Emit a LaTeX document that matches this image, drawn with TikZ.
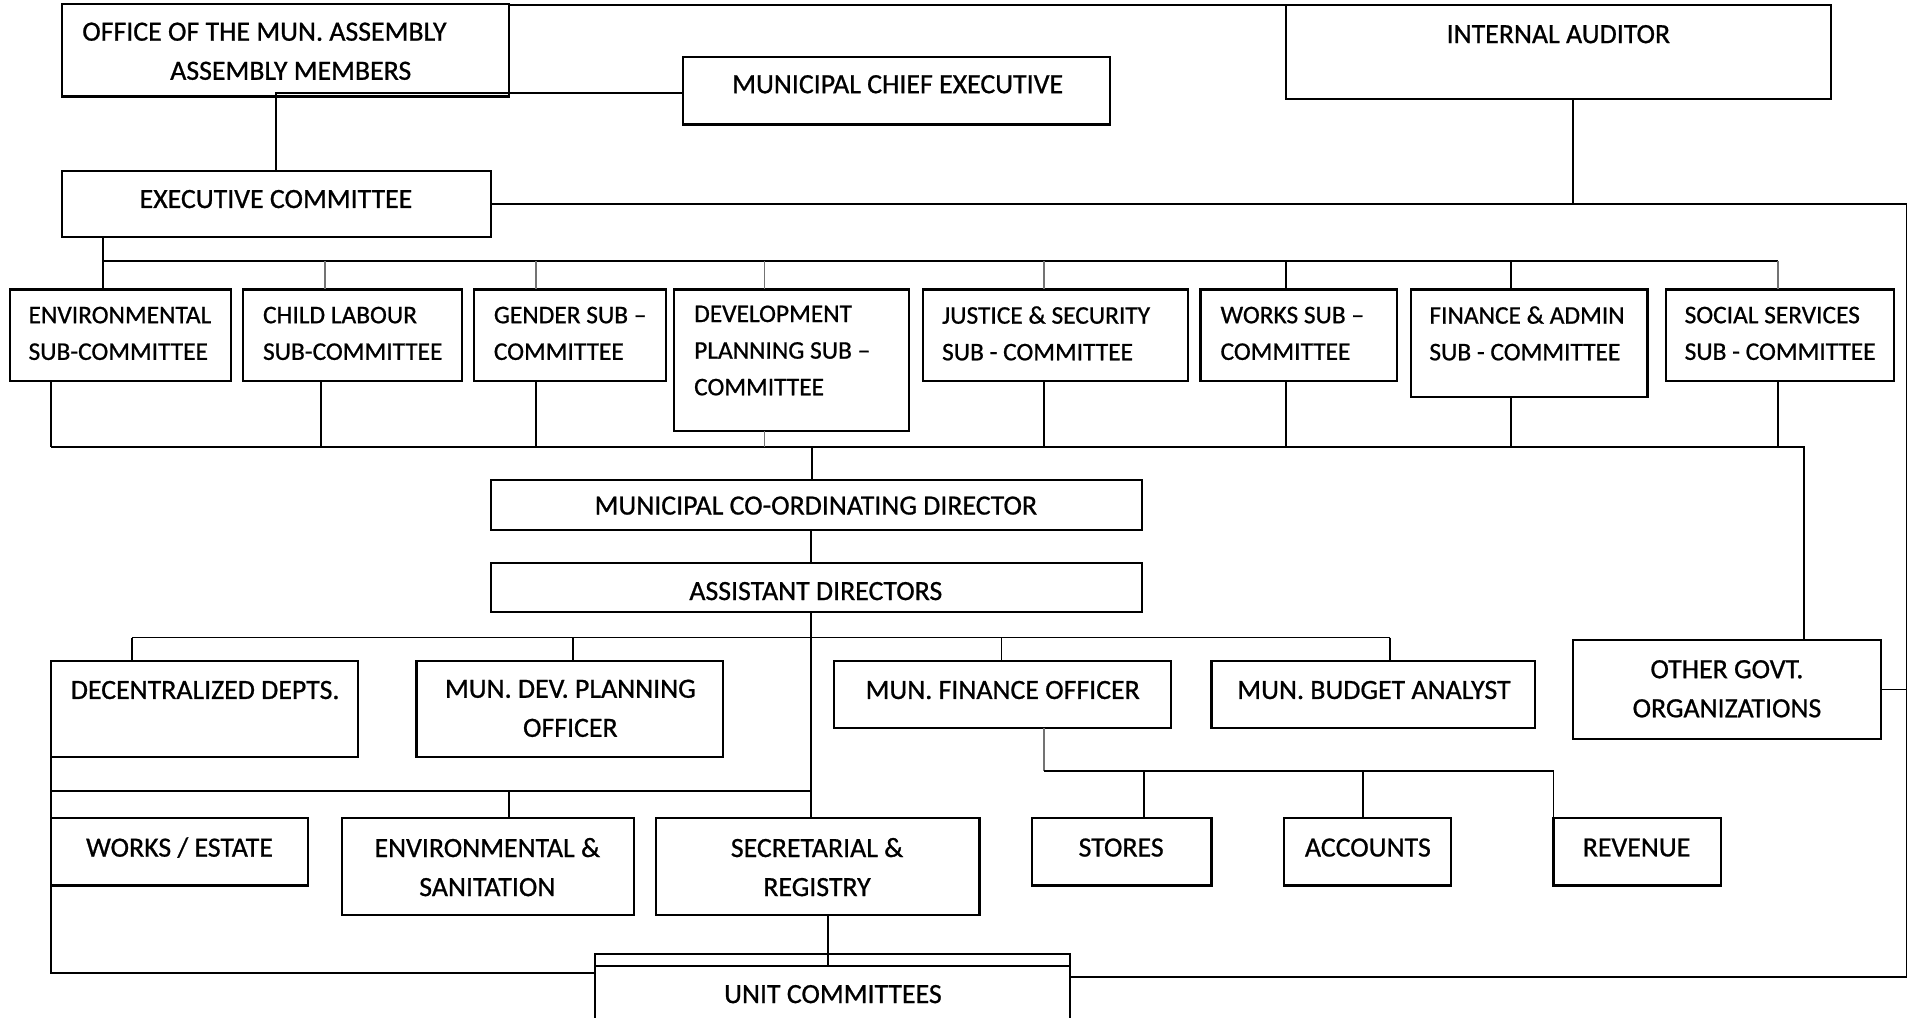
\documentclass[tikz,border=0pt]{standalone}
\usepackage{fontspec}
\setmainfont{Carlito}[FakeBold=0.8]
\usetikzlibrary{fit}
\tikzset{
  box/.style={draw=black, line width=0.9pt, inner sep=0pt, outer sep=0pt},
  lbl/.style={font=\fontsize{11.4}{15}\selectfont, inner sep=0pt, text=black},
  lblS/.style={font=\fontsize{10.4}{15}\selectfont, inner sep=0pt, text=black, align=left, anchor=west},
  lblL/.style={lbl, align=left, anchor=west},
  lblC/.style={lbl, align=center},
  lblCC/.style={lbl, align=center, font=\fontsize{11.4}{16}\selectfont},
  con/.style={draw=black, line width=0.75pt},
  gcon/.style={draw=black!55, line width=0.75pt},
}
\begin{document}
\begin{tikzpicture}[x=0.5pt, y=-0.5pt]
\useasboundingbox (0,0) rectangle (1568,833);
% ---------- boxes ----------
\node[box, fit={(51,3) (417,79)}] (office) {};
\node[box, fit={(559,47) (909,102)}] (mce) {};
\node[box, fit={(1053,4) (1499,81)}] (ia) {};
\node[box, fit={(51,140) (402,194)}] (exec) {};
\node[box, fit={(8,237) (189,312)}] (env) {};
\node[box, fit={(199,237) (378,312)}] (child) {};
\node[box, fit={(388,237) (545,312)}] (gender) {};
\node[box, fit={(552,237) (744,353)}] (dev) {};
\node[box, fit={(756,237) (973,312)}] (just) {};
\node[box, fit={(983,237) (1144,312)}] (works) {};
\node[box, fit={(1155,237) (1349,325)}] (fin) {};
\node[box, fit={(1364,237) (1551,312)}] (soc) {};
\node[box, fit={(402,393) (935,434)}] (mcd) {};
\node[box, fit={(402,461) (935,501)}] (ad) {};
\node[box, fit={(42,541) (293,620)}] (dec) {};
\node[box, fit={(341,541) (592,620)}] (mdpo) {};
\node[box, fit={(683,541) (959,596)}] (mfo) {};
\node[box, fit={(992,541) (1257,596)}] (mba) {};
\node[box, fit={(1288,524) (1540,605)}] (ogo) {};
\node[box, fit={(42,670) (252,725)}] (we) {};
\node[box, fit={(280,670) (519,749)}] (es) {};
\node[box, fit={(537,670) (802,749)}] (sr) {};
\node[box, fit={(845,670) (992,725)}] (stores) {};
\node[box, fit={(1051,670) (1188,725)}] (acc) {};
\node[box, fit={(1272,670) (1409,725)}] (rev) {};
\node[box, fit={(487,781) (876,845)}] (unit) {};
\draw[box] ([yshift=-5pt]unit.north west) -- ([yshift=-5pt]unit.north east);
% ---------- labels ----------
\node[lblL] (officeT1) at (67,26) {OFFICE OF THE MUN. ASSEMBLY};
\node[lblL] (officeT2) at (139,58) {ASSEMBLY MEMBERS};
\node[lblC] (mceT) at (735,69) {MUNICIPAL CHIEF EXECUTIVE};
\node[lblC] (iaT) at (1276,28) {INTERNAL AUDITOR};
\node[lblC] (execT) at (226,163) {EXECUTIVE COMMITTEE};
\node[lblS] (envT) at (23,273) {ENVIRONMENTAL\\SUB-COMMITTEE};
\node[lblS] (childT) at (215,273) {CHILD LABOUR\\SUB-COMMITTEE};
\node[lblS] (genderT) at (404,273) {GENDER SUB –\\COMMITTEE};
\node[lblS] (devT) at (568,287) {DEVELOPMENT\\PLANNING SUB –\\COMMITTEE};
\node[lblS] (justT) at (771,273) {JUSTICE \& SECURITY\\SUB - COMMITTEE};
\node[lblS] (worksT) at (999,273) {WORKS SUB –\\COMMITTEE};
\node[lblS] (finT) at (1170,273) {FINANCE \& ADMIN\\SUB - COMMITTEE};
\node[lblS] (socT) at (1379,273) {SOCIAL SERVICES\\SUB - COMMITTEE};
\node[lblC] (mcdT) at (668,414) {MUNICIPAL CO-ORDINATING DIRECTOR};
\node[lblC] (adT) at (668,484) {ASSISTANT DIRECTORS};
\node[lblC] (decT) at (168,565) {DECENTRALIZED DEPTS.};
\node[lblCC] (mdpoT) at (467,580) {MUN. DEV. PLANNING\\OFFICER};
\node[lblC] (mfoT) at (821,565) {MUN. FINANCE OFFICER};
\node[lblC] (mbaT) at (1125,565) {MUN. BUDGET ANALYST};
\node[lblCC] (ogoT) at (1414,564) {OTHER GOVT.\\ORGANIZATIONS};
\node[lblC] (weT) at (147,694) {WORKS / ESTATE};
\node[lblCC] (esT) at (399,710) {ENVIRONMENTAL \&\\SANITATION};
\node[lblCC] (srT) at (669,710) {SECRETARIAL \&\\REGISTRY};
\node[lblC] (storesT) at (918,694) {STORES};
\node[lblC] (accT) at (1120,694) {ACCOUNTS};
\node[lblC] (revT) at (1340,694) {REVENUE};
\node[lblC] (unitT) at (682,814) {UNIT COMMITTEES};
% ---------- connectors ----------
\draw[con] (office.east |- ia.north) -- (ia.north west);
\coordinate (j1) at (226,76);
\draw[con] (exec.north -| j1) -- (j1) -- (j1 -| mce.west);
\coordinate (j2) at (1288,167);
\coordinate (rc1) at (1561,167);
\coordinate (rc2) at (1561,800);
\draw[con] (ia.south -| j2) -- (j2);
\draw[con] (exec.east |- rc1) -- (rc1) -- (rc2) -- (rc2 -| unit.east);
% sub-committee top bus
\coordinate (t1) at (84,214);
\coordinate (t8) at (1456,214);
\draw[con] (exec.south -| t1) -- (env.north -| t1);
\draw[con] (t1) -- (t8);
\foreach \n/\x/\c in {child/266/gcon, gender/439/gcon, dev/626/gcon, just/855/gcon, works/1053/con, fin/1237/con, soc/1456/gcon}
  \draw[\c] (\x,214) -- (\x,214 |- \n.north);
% sub-committee lower bus
\coordinate (b0) at (42,366);
\coordinate (b9) at (1477,366);
\draw[con] (b0) -- (b9) -- (b9 |- ogo.north);
\foreach \n/\x/\c in {env/42/con, child/263/con, gender/439/con, dev/626/gcon, just/855/con, works/1053/con, fin/1237/con, soc/1456/con}
  \draw[\c] (\x,366 |- \n.south) -- (\x,366);
\draw[con] (665,366) -- (665,366 |- mcd.north);
\draw[con] (664,0 |- mcd.south) -- (664,0 |- ad.north);
\draw[con] (664,0 |- ad.south) -- (664,0 |- sr.north);
% directors bus
\draw[con] (108,522) -- (1138,522);
\foreach \n/\x in {dec/108, mdpo/469, mfo/820, mba/1138}
  \draw[con] (\x,522) -- (\x,522 |- \n.north);
% left side
\coordinate (l1) at (42,797);
\draw[con] (dec.south west) -- (l1) -- (l1 -| unit.west);
\draw[con] (42,648) -- (664,648);
\draw[con] (417,648) -- (417,648 |- es.north);
\draw[con] (678,0 |- sr.south) -- (678,791);
% finance
\draw[gcon] (855,0 |- mfo.south) -- (855,631);
\draw[con] (855,631) -- (1272,631);
\foreach \n/\x in {stores/937, acc/1116, rev/1272}
  \draw[con] (\x,631) -- (\x,631 |- \n.north);
\draw[con] (ogo.east) -- (ogo.east -| rc2);
\end{tikzpicture}
\end{document}
